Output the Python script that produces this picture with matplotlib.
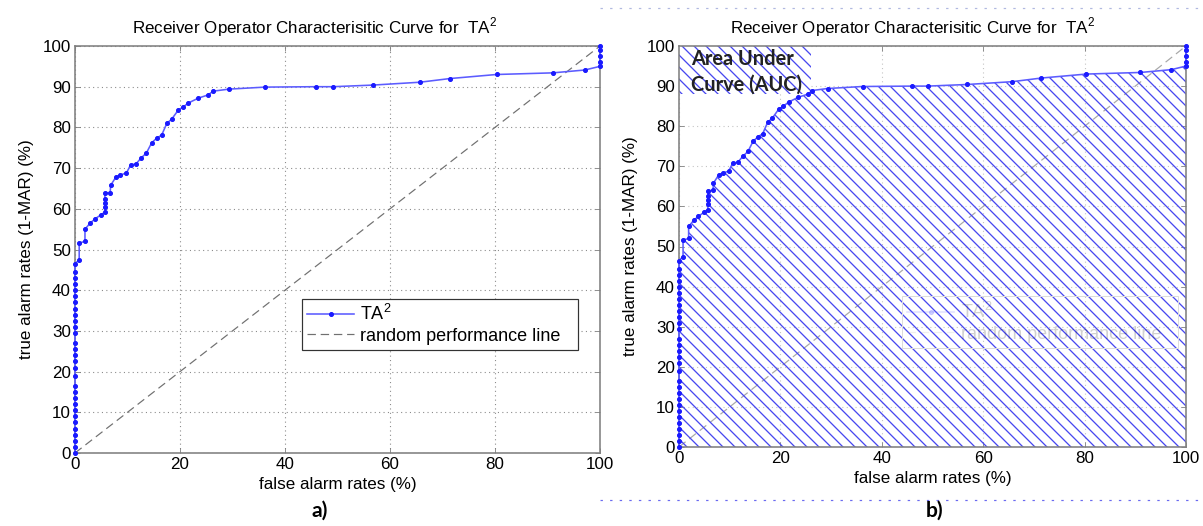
"""ROC curve for TA^2, plain and with the AUC hatched."""
import matplotlib

matplotlib.use("Agg")
import matplotlib.pyplot as plt
from matplotlib.lines import Line2D
from matplotlib.patches import Rectangle

# ROC points (%)
fpr = [0, 0, 0, 0, 0, 0, 0, 0, 0, 0, 0, 0, 0, 0, 0, 0, 0, 0, 0, 0,
       0, 0, 0, 0, 0, 0, 0, 0, 0, 0,
       0.8, 0.8, 1.9, 1.9, 2.9, 3.8, 4.9, 5.7, 5.7, 5.7, 5.7, 5.7,
       6.7, 6.8, 7.8, 8.6, 9.8, 10.6, 11.6, 12.6, 13.6, 14.6, 15.6,
       16.5, 17.5, 18.4, 19.7, 20.6, 21.6, 23.5, 25.4, 26.3, 29.3,
       36.2, 45.9, 49.1, 56.8, 65.7, 71.4, 80.3, 91.0, 97.1,
       100, 100, 100, 100, 100]
tpr = [0, 1.5, 3, 4.5, 6, 7.5, 9, 10.5, 12, 13.5, 15, 16.5, 19, 21, 22.5,
       24, 25.5, 27, 29.5, 31, 32.5, 34, 35.5, 37, 38.5, 40, 41.5, 43,
       44.5, 46.5,
       47.5, 51.6, 52, 55, 56.5, 57.5, 58.5, 59.2, 60.5, 61.5, 62.5, 63.9,
       64, 65.8, 67.8, 68.3, 68.8, 70.8, 71, 72.5, 73.7, 76.2, 77.4,
       78.1, 81, 82, 84.3, 85, 86, 87.2, 88, 88.9, 89.4,
       89.9, 90, 90, 90.4, 91.1, 92, 93, 93.4, 94.1,
       95, 96, 97.5, 99, 100]
diag = [0, 100]
ticks = [0, 10, 20, 30, 40, 50, 60, 70, 80, 90, 100]
xticks = [0, 20, 40, 60, 80, 100]

TITLE = "Receiver Operator Characterisitic Curve for  TA$^2$"
BLUE = "#1a1aff"
LINE = "#5c5cff"
HATCH = "#4848f0"

plt.rcParams["font.family"] = ["Liberation Sans", "DejaVu Sans"]
plt.rcParams["mathtext.fontset"] = "custom"
plt.rcParams["mathtext.rm"] = "Liberation Sans"
plt.rcParams["hatch.color"] = HATCH
plt.rcParams["hatch.linewidth"] = 1.3

# dpi 72 so one hatch tile is 72 px wide (6 lines -> 12 px spacing)
DPI = 72
fig = plt.figure(figsize=(1203 / DPI, 526 / DPI), dpi=DPI)

ax1 = fig.add_axes([75 / 1203, 73 / 526, 525 / 1203, 407 / 526])
ax2 = fig.add_axes([679 / 1203, 79 / 526, 507 / 1203, 401 / 526])


def style(ax, title_x, light=False):
    ax.set_xlim(0, 100)
    ax.set_ylim(0, 100)
    ax.set_xticks(xticks)
    ax.set_yticks(ticks)
    gcol = "#c4c4c4" if light else "#8c8c8c"
    ax.grid(True, linestyle=(0, (1, 3)), color=gcol, linewidth=1.1)
    ax.set_axisbelow(True)
    ax.tick_params(direction="in", top=True, right=True, length=5,
                   labelsize=17, pad=4, color="#777777")
    for s in ax.spines.values():
        s.set_color("#808080")
        s.set_linewidth(1.6)
    ax.set_title(TITLE, fontsize=17, pad=13, x=title_x)
    ax.set_xlabel("false alarm rates (%)", fontsize=17, labelpad=5)
    ax.set_ylabel("true alarm rates (1-MAR) (%)", fontsize=17, labelpad=9)


def roc(ax):
    ax.plot(fpr, tpr, color=LINE, lw=1.6, marker="o", ms=4, mfc=BLUE,
            mec=BLUE, label="TA$^2$", zorder=3, clip_on=False)


def add_legend(ax, anchor):
    return ax.legend(loc="lower left", bbox_to_anchor=anchor, mode="expand",
                     borderaxespad=0, fontsize=18, fancybox=False,
                     framealpha=1, edgecolor="#333333", borderpad=0.3,
                     labelspacing=0.2, handlelength=2.6, handletextpad=0.35)


# a) plain ROC
style(ax1, 0.457)
roc(ax1)
ax1.plot(diag, diag, color="#707070", lw=1.2, linestyle=(0, (7, 4)),
         label="random performance line")
leg = add_legend(ax1, (0.432, 0.253, 0.527, 0.14))
leg.get_frame().set_linewidth(1.2)

# b) ROC with hatched area under curve
style(ax2, 0.4615, light=True)
ax2.fill_between(fpr, tpr, 0, facecolor="none", edgecolor=HATCH,
                 hatch="\\\\", linewidth=0, zorder=2)
roc(ax2)
ax2.plot(diag, diag, color="#a8a8a8", lw=1.2, linestyle=(0, (7, 4)),
         label="random performance line", zorder=1)
ax2.add_patch(Rectangle((0, 88), 26, 12, facecolor="white", edgecolor=HATCH,
                        hatch="\\\\", linewidth=0, zorder=2))
ax2.text(2.4, 93.6, "Area Under\nCurve (AUC)", fontsize=20, fontweight="bold",
         family=["Lato", "DejaVu Sans"], color="#222222", va="center",
         ha="left", linespacing=1.32, zorder=4)
leg2 = add_legend(ax2, (0.44, 0.247, 0.545, 0.145))
frame = leg2.get_frame()
frame.set_facecolor("none")
frame.set_edgecolor("#dcdcdc")
for t in leg2.get_texts():
    t.set_alpha(0.18)
for h in leg2.legend_handles:
    h.set_alpha(0.18)

# panel labels
fig.text(320 / 1203, 1 - 511 / 526, "a)", fontsize=21, fontweight="bold",
         family=["Lato", "DejaVu Sans"], ha="center", va="center")
fig.text(935 / 1203, 1 - 511 / 526, "b)", fontsize=21, fontweight="bold",
         family=["Lato", "DejaVu Sans"], ha="center", va="center")

# faint dotted frame lines around panel b
fig.add_artist(Line2D([600 / 1203, 1], [1 - 8 / 526] * 2, color="#b0b8e0",
                      lw=1.2, linestyle=(0, (2, 6))))
fig.add_artist(Line2D([600 / 1203, 1], [1 - 500 / 526] * 2, color="#6a6af0",
                      lw=1.2, linestyle=(0, (2, 6))))

fig.savefig("out.png", dpi=DPI)
